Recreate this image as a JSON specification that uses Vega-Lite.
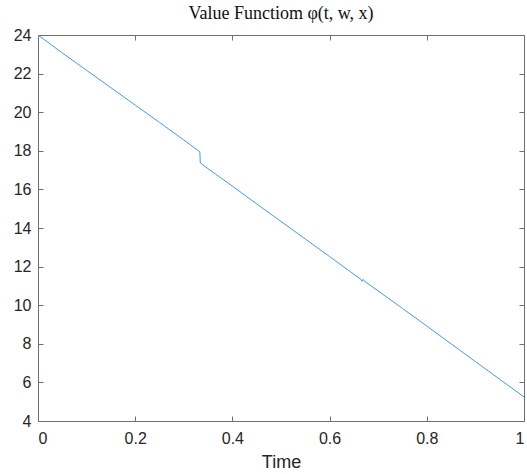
{
  "$schema": "https://vega.github.io/schema/vega-lite/v6.json",
  "width": 486,
  "height": 386,
  "autosize": {"type": "none"},
  "padding": {"left": 38, "top": 35, "right": 3, "bottom": 53},
  "background": "white",
  "title": {
    "text": "Value Functiom φ(t, w, x)",
    "font": "Liberation Serif",
    "fontSize": 18,
    "fontWeight": "normal",
    "color": "#111111",
    "offset": 4
  },
  "config": {
    "view": {"stroke": "#6f6f6f", "strokeWidth": 1},
    "axis": {
      "grid": false,
      "domain": false,
      "tickColor": "#6f6f6f",
      "tickSize": -5,
      "labelFont": "Liberation Sans",
      "labelFontSize": 16,
      "labelColor": "#262626",
      "titleFont": "Liberation Sans",
      "titleFontSize": 18,
      "titleFontWeight": "normal",
      "titleColor": "#262626"
    }
  },
  "data": {
    "values": [
      {"t": 0.0, "v": 24.0},
      {"t": 0.05, "v": 23.07},
      {"t": 0.1, "v": 22.17},
      {"t": 0.15, "v": 21.27},
      {"t": 0.2, "v": 20.37},
      {"t": 0.25, "v": 19.47},
      {"t": 0.3, "v": 18.56},
      {"t": 0.333, "v": 17.95},
      {"t": 0.334, "v": 17.37},
      {"t": 0.35, "v": 17.07},
      {"t": 0.4, "v": 16.17},
      {"t": 0.45, "v": 15.25},
      {"t": 0.5, "v": 14.34},
      {"t": 0.55, "v": 13.43},
      {"t": 0.6, "v": 12.52},
      {"t": 0.65, "v": 11.6},
      {"t": 0.665, "v": 11.33},
      {"t": 0.667, "v": 11.24},
      {"t": 0.669, "v": 11.34},
      {"t": 0.672, "v": 11.24},
      {"t": 0.7, "v": 10.74},
      {"t": 0.75, "v": 9.83},
      {"t": 0.8, "v": 8.92},
      {"t": 0.85, "v": 8.0},
      {"t": 0.9, "v": 7.08},
      {"t": 0.95, "v": 6.16},
      {"t": 1.0, "v": 5.25}
    ]
  },
  "layer": [
    {
      "mark": {"type": "line", "color": "#4a9ad8", "strokeWidth": 1, "clip": true},
      "encoding": {
        "x": {
          "field": "t", "type": "quantitative",
          "scale": {"domain": [0, 1], "nice": false},
          "axis": {"orient": "bottom", "title": "Time", "format": "~g", "values": [0, 0.2, 0.4, 0.6, 0.8, 1], "labelPadding": 14, "titlePadding": 7}
        },
        "y": {
          "field": "v", "type": "quantitative",
          "scale": {"domain": [4, 24], "nice": false, "zero": false},
          "axis": {"orient": "left", "title": null, "values": [4, 6, 8, 10, 12, 14, 16, 18, 20, 22, 24], "labelPadding": 12}
        }
      }
    },
    {
      "mark": {"type": "line", "opacity": 0},
      "encoding": {
        "x": {
          "field": "t", "type": "quantitative",
          "axis": {"orient": "top", "title": null, "labels": false, "values": [0, 0.2, 0.4, 0.6, 0.8, 1]}
        },
        "y": {
          "field": "v", "type": "quantitative",
          "axis": {"orient": "right", "title": null, "labels": false, "values": [4, 6, 8, 10, 12, 14, 16, 18, 20, 22, 24]}
        }
      }
    }
  ],
  "resolve": {"axis": {"x": "independent", "y": "independent"}}
}
